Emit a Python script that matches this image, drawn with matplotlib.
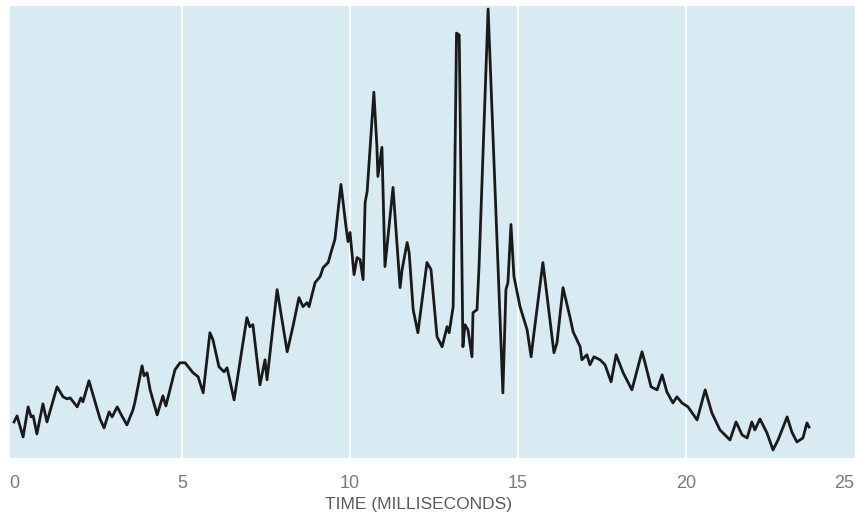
import matplotlib
matplotlib.use('Agg')
import matplotlib.pyplot as plt

# trace: time in ms, amplitude in arbitrary units
time_ms = [
    0.00, 0.09, 0.27, 0.42, 0.51, 0.57, 0.68, 0.86, 0.98, 1.28, 1.46, 1.58,
    1.67, 1.88, 1.99, 2.05, 2.23, 2.56, 2.68, 2.83, 2.92, 3.07, 3.21, 3.36,
    3.54, 3.60, 3.81, 3.87, 3.96, 4.05, 4.26, 4.43, 4.52, 4.79, 4.94, 5.09,
    5.21, 5.33, 5.48, 5.63, 5.83, 5.92, 6.10, 6.25, 6.34, 6.55, 6.93, 7.02,
    7.11, 7.32, 7.47, 7.53, 7.83, 8.13, 8.30, 8.48, 8.60, 8.72, 8.78, 8.96,
    9.11, 9.20, 9.35, 9.46, 9.55, 9.73, 9.88, 9.94, 10.00, 10.12, 10.21, 10.30,
    10.39, 10.45, 10.51, 10.71, 10.80, 10.83, 10.95, 11.04, 11.28, 11.49, 11.55, 11.70,
    11.76, 11.88, 12.02, 12.29, 12.41, 12.59, 12.74, 12.89, 12.95, 13.07, 13.17, 13.25,
    13.36, 13.42, 13.51, 13.63, 13.66, 13.78, 13.84, 14.11, 14.55, 14.64, 14.70, 14.79,
    14.88, 15.06, 15.27, 15.39, 15.45, 15.74, 15.83, 16.07, 16.16, 16.34, 16.55, 16.64,
    16.85, 16.90, 17.05, 17.14, 17.26, 17.44, 17.59, 17.77, 17.92, 18.13, 18.39, 18.69,
    18.78, 18.96, 19.14, 19.29, 19.43, 19.61, 19.73, 19.88, 20.06, 20.33, 20.57, 20.77,
    21.01, 21.31, 21.49, 21.67, 21.82, 21.96, 22.05, 22.20, 22.41, 22.59, 22.74, 23.01,
    23.15, 23.30, 23.48, 23.60, 23.66,
]
amplitude = [
    36, 42, 21, 51, 41, 42, 24, 54, 36, 71, 61, 59,
    60, 51, 60, 56, 77, 39, 30, 46, 41, 51, 42, 33,
    48, 56, 92, 82, 85, 68, 43, 62, 52, 88, 95, 95,
    90, 85, 81, 65, 125, 118, 91, 86, 90, 58, 140, 131,
    133, 73, 98, 78, 168, 106, 131, 160, 151, 155, 151, 175,
    181, 190, 195, 208, 218, 273, 231, 216, 225, 183, 200, 198,
    178, 255, 266, 365, 311, 281, 310, 191, 270, 170, 188, 215,
    205, 148, 125, 195, 188, 121, 111, 131, 125, 151, 424, 422,
    111, 133, 128, 101, 145, 148, 191, 448, 65, 168, 175, 233,
    181, 151, 128, 101, 118, 195, 171, 105, 115, 170, 140, 126,
    111, 98, 103, 93, 101, 98, 93, 76, 103, 85, 68, 106,
    95, 71, 68, 83, 66, 55, 61, 55, 51, 38, 68, 45,
    28, 18, 36, 23, 20, 36, 28, 39, 25, 8, 18, 41,
    26, 16, 20, 35, 31,
]

grid_ms = [5, 10, 15, 20]
tick_ms = [0, 5, 10, 15, 20, 25]
tick_labels = ['0', '5', '10', '15', '20', '25']

fig = plt.figure(figsize=(8.55, 5.16), dpi=100)
ax = fig.add_axes([10 / 855, 58 / 516, 845 / 855, 452 / 516])
ax.set_facecolor('#d9ebf2')

for g in grid_ms:
    ax.axvline(g, color='white', lw=1.3, alpha=0.9, zorder=1)

ax.plot(time_ms, amplitude, color='#1a1a1a', lw=2.0,
        solid_joinstyle='round', zorder=3)

ax.set_xlim(-0.12, 25.03)
ax.set_ylim(0, 451)
ax.set_yticks([])
ax.set_xticks(tick_ms)
ax.set_xticklabels(tick_labels, fontsize=13, color='#7a7a7a',
                   family='Liberation Sans')
ax.tick_params(axis='x', length=0, pad=12)
ax.get_xticklabels()[-1].set_ha('right')
for s in ax.spines.values():
    s.set_visible(False)

fig.text(418 / 855, 1 - 505 / 516, 'TIME (MILLISECONDS)', fontsize=12.5,
         color='#5a5a5a', family='Liberation Sans', ha='center', va='center')

fig.savefig('out.png', dpi=100)
